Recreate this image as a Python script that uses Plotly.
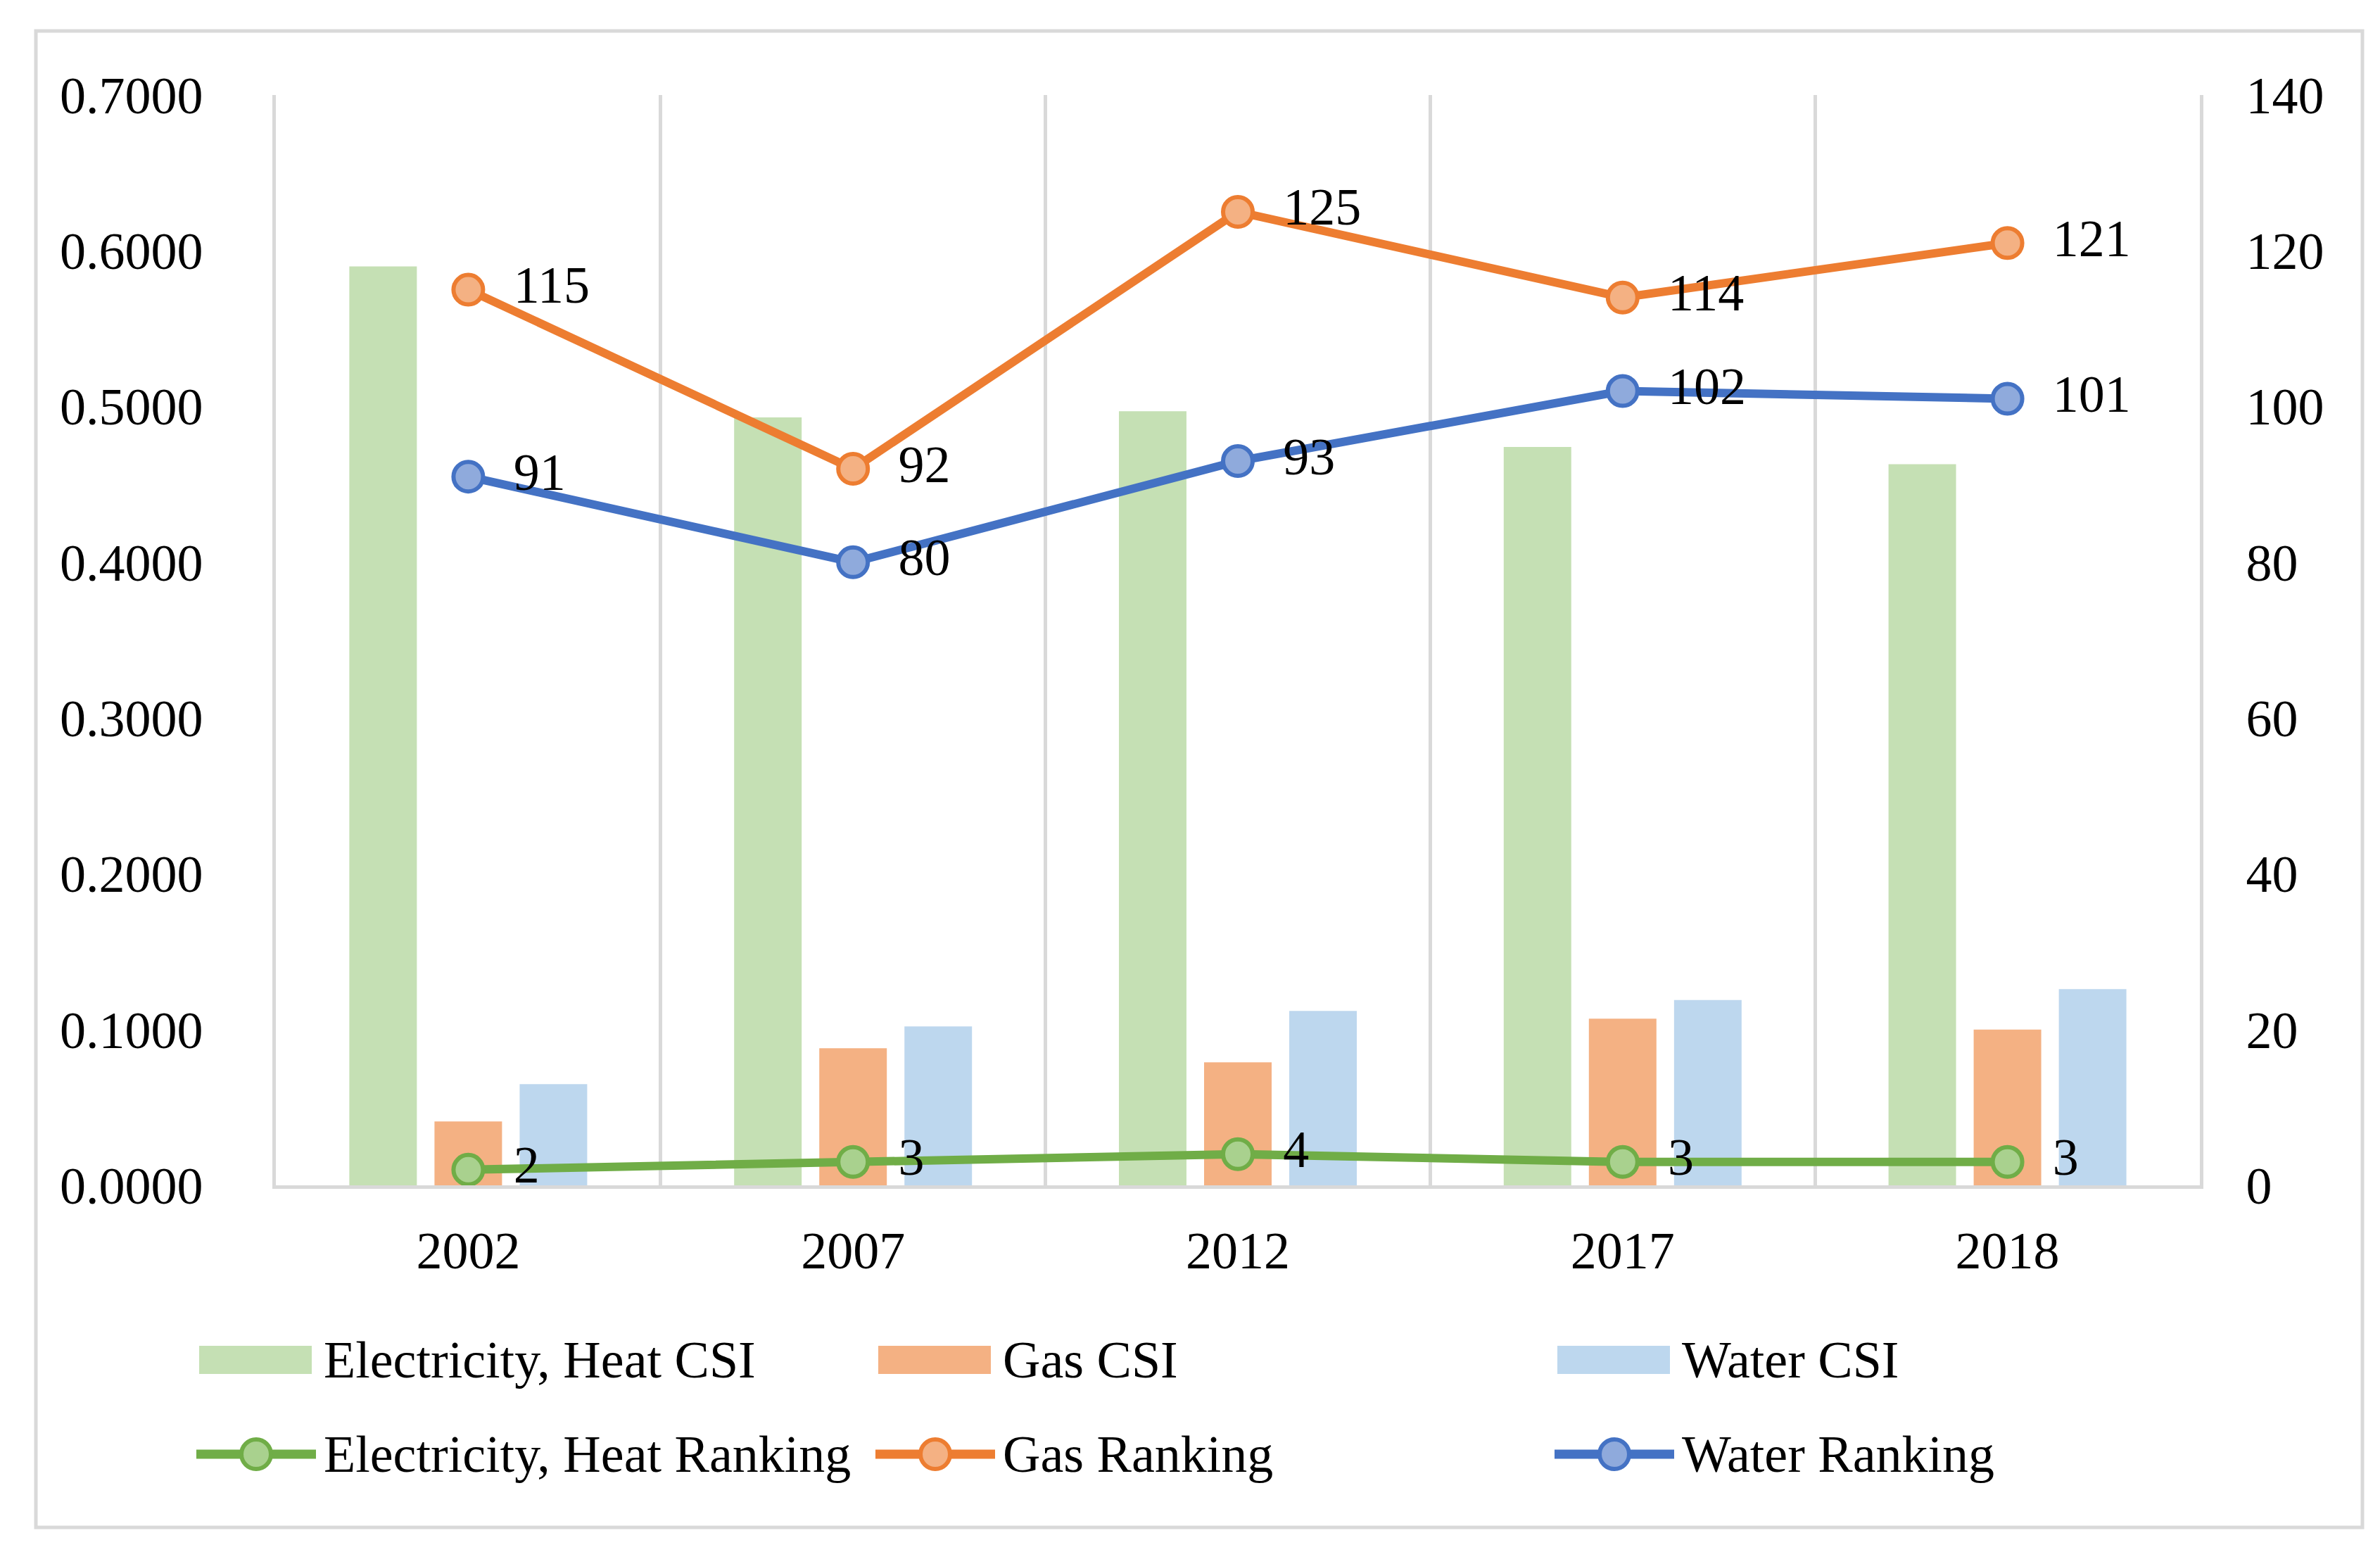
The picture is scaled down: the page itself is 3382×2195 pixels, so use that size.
import plotly.graph_objects as go

years = ["2002", "2007", "2012", "2017", "2018"]
elec_csi = [0.590, 0.493, 0.497, 0.474, 0.463]
gas_csi = [0.041, 0.088, 0.079, 0.107, 0.100]
water_csi = [0.065, 0.102, 0.112, 0.119, 0.126]
elec_rank = [2, 3, 4, 3, 3]
gas_rank = [115, 92, 125, 114, 121]
water_rank = [91, 80, 93, 102, 101]

W, H = 3382, 2195
L, R, T, B = 384, 3382 - 3118, 127, 2195 - 1676
PW, PH = W - L - R, H - T - B

FONT = "Liberation Serif"
FS = 74
GRID = "#d9d9d9"

xs = list(range(len(years)))

def px_x(p):
    return (p - L) / PW

def px_y(p):
    return (H - B - p) / PH

fig = go.Figure()
bar_specs = [
    ("Electricity, Heat CSI", elec_csi, "#C5E0B4"),
    ("Gas CSI", gas_csi, "#F4B183"),
    ("Water CSI", water_csi, "#BDD7EE"),
]
for name, vals, col in bar_specs:
    fig.add_trace(go.Bar(x=xs, y=vals, name=name, marker=dict(color=col, line=dict(width=0)),
                         showlegend=False))

line_specs = [
    ("Electricity, Heat Ranking", elec_rank, "#70AD47", "#A9D18E"),
    ("Gas Ranking", gas_rank, "#ED7D31", "#F4B183"),
    ("Water Ranking", water_rank, "#4472C4", "#8FAADC"),
]
for name, vals, lc, fc in line_specs:
    fig.add_trace(go.Scatter(
        x=xs, y=vals, name=name, yaxis="y2", mode="lines+markers+text",
        text=["  " + str(v) for v in vals], textposition="middle right",
        textfont=dict(family=FONT, size=FS, color="black"),
        line=dict(color=lc, width=12),
        marker=dict(size=42, color=fc, line=dict(color=lc, width=6)),
        cliponaxis=False, showlegend=False))

# Manual legend (large swatches as in the reference)
shapes = [dict(type="rect", xref="paper", yref="paper",
               x0=px_x(43), x1=px_x(3349), y0=px_y(2162), y1=px_y(36),
               line=dict(color=GRID, width=5), fillcolor="rgba(0,0,0,0)", layer="below")]
annotations = []
col_x = [275, 1240, 2205]
row1_y, row2_y = 1924, 2058
for i, (name, vals, col) in enumerate(bar_specs):
    x0 = col_x[i]
    shapes.append(dict(type="rect", xref="paper", yref="paper",
                       x0=px_x(x0), x1=px_x(x0 + 160), y0=px_y(row1_y + 20), y1=px_y(row1_y - 20),
                       line=dict(width=0), fillcolor=col))
    annotations.append(dict(text=name, xref="paper", yref="paper", x=px_x(x0 + 175), y=px_y(row1_y),
                            xanchor="left", yanchor="middle", showarrow=False,
                            font=dict(family=FONT, size=FS, color="black")))
for i, (name, vals, lc, fc) in enumerate(line_specs):
    x0 = col_x[i] - 4
    shapes.append(dict(type="line", xref="paper", yref="paper",
                       x0=px_x(x0), x1=px_x(x0 + 170), y0=px_y(row2_y), y1=px_y(row2_y),
                       line=dict(color=lc, width=13)))
    cx = x0 + 85
    shapes.append(dict(type="circle", xref="paper", yref="paper",
                       x0=px_x(cx - 21), x1=px_x(cx + 21), y0=px_y(row2_y + 21), y1=px_y(row2_y - 21),
                       line=dict(color=lc, width=6), fillcolor=fc))
    annotations.append(dict(text=name, xref="paper", yref="paper", x=px_x(col_x[i] + 175), y=px_y(row2_y),
                            xanchor="left", yanchor="middle", showarrow=False,
                            font=dict(family=FONT, size=FS, color="black")))

fig.update_layout(
    width=W, height=H,
    margin=dict(l=L, r=R, t=T, b=B),
    paper_bgcolor="white", plot_bgcolor="white",
    font=dict(family=FONT, size=FS, color="black"),
    barmode="group", bargap=0.336, bargroupgap=0.207,
    showlegend=False,
    xaxis=dict(range=[-0.5, 4.5], tickmode="array", tickvals=xs, ticktext=years,
               showgrid=False, zeroline=False, showline=True, linecolor=GRID, linewidth=5,
               ticks="", ticklabelstandoff=24,
               minor=dict(tickvals=[0.5, 1.5, 2.5, 3.5], showgrid=True, gridcolor=GRID,
                          gridwidth=4.5, ticks="")),
    yaxis=dict(range=[0, 0.7], tickvals=[0, 0.1, 0.2, 0.3, 0.4, 0.5, 0.6, 0.7],
               tickformat=".4f", showgrid=False, zeroline=False, showline=True,
               linecolor=GRID, linewidth=4.5, ticks="", ticklabelstandoff=84),
    yaxis2=dict(range=[0, 140], tickvals=[0, 20, 40, 60, 80, 100, 120, 140], overlaying="y",
                side="right", showgrid=False, zeroline=False, showline=True,
                linecolor=GRID, linewidth=4.5, ticks="", ticklabelstandoff=46),
    shapes=shapes,
    annotations=annotations,
)

fig.write_html("out.html")
